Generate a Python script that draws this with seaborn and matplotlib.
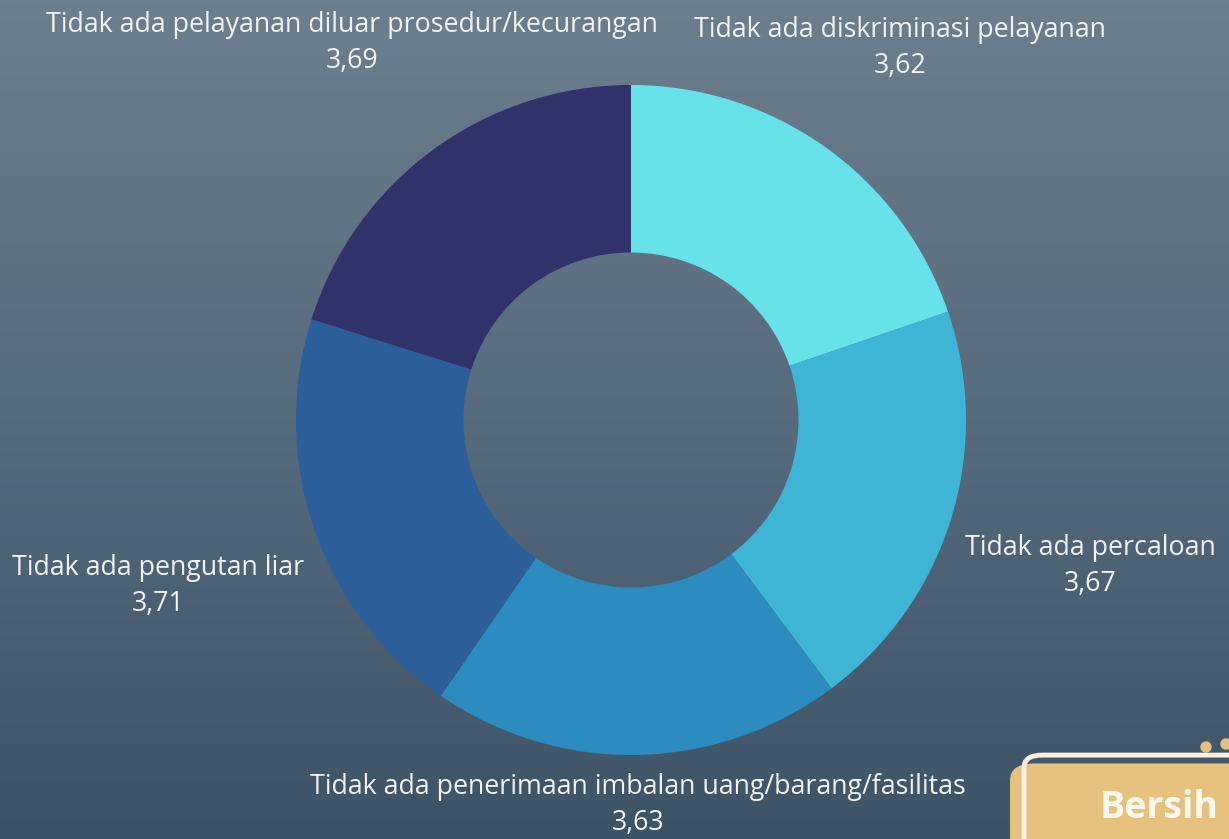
import seaborn as sns
import numpy as np
import matplotlib.pyplot as plt
from matplotlib.colors import LinearSegmentedColormap
from matplotlib.patches import FancyBboxPatch, Circle

# data
categories = [
    'Tidak ada diskriminasi pelayanan',
    'Tidak ada percaloan',
    'Tidak ada penerimaan imbalan uang/barang/fasilitas',
    'Tidak ada pengutan liar',
    'Tidak ada pelayanan diluar prosedur/kecurangan',
]
values = [3.62, 3.67, 3.63, 3.71, 3.69]

sns.set_style('white')
plt.rcParams['font.family'] = ['Open Sans', 'DejaVu Sans']

colors = sns.color_palette(['#66E2E8', '#3FB5D6', '#2B8CBF', '#2C5E99', '#2F3369'])

W, H = 1229, 839
cx, cy, R = 631, 420, 335  # pie centre / radius in pixels

fig = plt.figure(figsize=(W / 100, H / 100), dpi=100)
ax = fig.add_axes([0, 0, 1, 1])
x0, x1 = -cx / R, (W - cx) / R
y0, y1 = -(H - cy) / R, cy / R

# background gradient
bg = LinearSegmentedColormap.from_list('bg', ['#3D5366', '#566B7C', '#6D7E8D'])
grad = np.linspace(0, 1, 256).reshape(-1, 1)
ax.imshow(grad, cmap=bg, origin='lower', extent=[x0, x1, y0, y1], aspect='auto', zorder=0)

ax.pie(values, colors=colors, startangle=90, counterclock=False, radius=1,
       wedgeprops=dict(width=0.5, linewidth=0), normalize=True)
ax.set_xlim(x0, x1)
ax.set_ylim(y0, y1)
ax.set_aspect('equal')
ax.axis('off')

# label centres in pixels (name line, value sits below)
label_pix = [(900, 30), (1090, 548), (638, 787), (158, 568), (352, 25)]
for name, val, (px, py) in zip(categories, values, label_pix):
    tx, ty = (px - cx) / R, (cy - py) / R
    ax.text(tx, ty, name, ha='center', va='center', fontsize=19.3, color='#EEF3F5', zorder=5)
    ax.text(tx, ty - 36 / R, f'{val:.2f}'.replace('.', ','), ha='center', va='center',
            fontsize=19.3, color='#EEF3F5', zorder=5)

# decoration bottom right
box = FancyBboxPatch((1010 / W, -0.05), 0.25, 0.14, boxstyle='round,pad=0,rounding_size=0.02',
                     transform=fig.transFigure, facecolor='#E6C27E', edgecolor='none', zorder=3)
fig.add_artist(box)
frame = FancyBboxPatch((1024 / W, -0.05), 0.25, 0.15, boxstyle='round,pad=0,rounding_size=0.015',
                       transform=fig.transFigure, facecolor='none', edgecolor='#FBEFE2', lw=3.5, zorder=4)
fig.add_artist(frame)
fig.text(1100 / W, 1 - 808 / H, 'Bersih', ha='left', va='center', fontsize=27, fontweight='bold',
         color='#FFF8EE', zorder=6)
for px, py in [(1206, 747), (1226, 744)]:
    ax.add_patch(Circle(((px - cx) / R, (cy - py) / R), 5 / R, color='#E6C27E', zorder=6, clip_on=True))

fig.savefig('out.png', dpi=100)
